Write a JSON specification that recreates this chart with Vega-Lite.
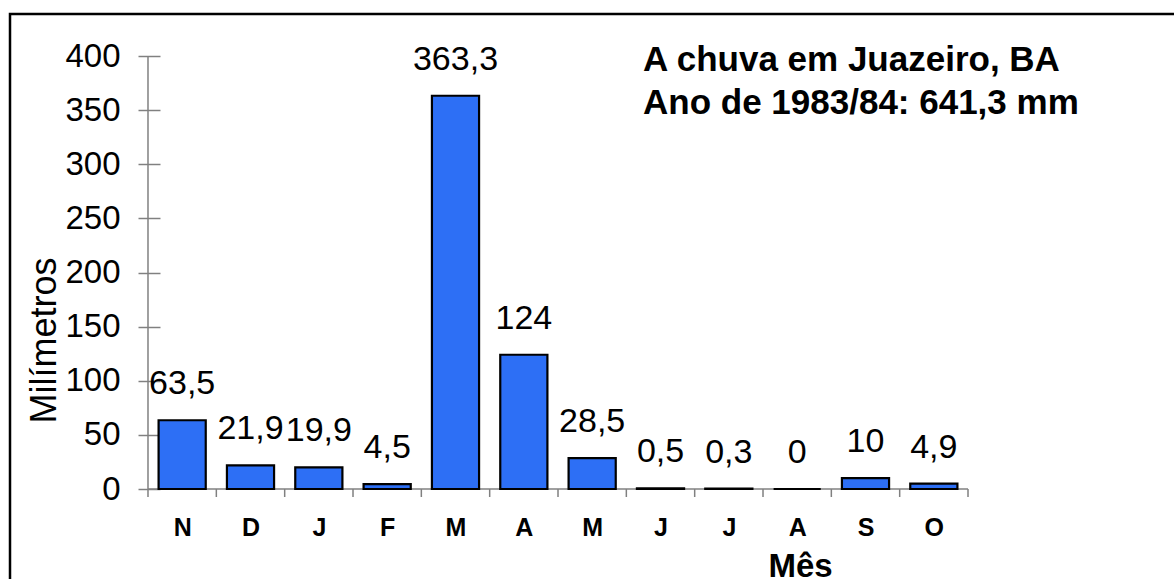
{
  "$schema": "https://vega.github.io/schema/vega-lite/v6.json",
  "width": 1200,
  "height": 600,
  "autosize": {"type": "none"},
  "padding": {"left": 10, "top": 14, "right": -36, "bottom": -35},
  "background": "white",
  "config": {
    "font": "Liberation Sans",
    "view": {"stroke": "black", "strokeWidth": 2.5}
  },
  "title": {
    "text": ["A chuva em Juazeiro, BA", "Ano de 1983/84: 641,3 mm"],
    "orient": "top",
    "anchor": "start",
    "frame": "group",
    "offset": 0,
    "dx": 633,
    "dy": 135,
    "baseline": "alphabetic",
    "lineHeight": 43,
    "fontSize": 35,
    "fontWeight": "bold",
    "font": "Liberation Sans",
    "color": "black"
  },
  "data": {
    "values": [
      {"mes": "Nov", "valor": 63.5, "rotulo": "63,5"},
      {"mes": "Dez", "valor": 21.9, "rotulo": "21,9"},
      {"mes": "Jan", "valor": 19.9, "rotulo": "19,9"},
      {"mes": "Fev", "valor": 4.5, "rotulo": "4,5"},
      {"mes": "Mar", "valor": 363.3, "rotulo": "363,3"},
      {"mes": "Abr", "valor": 124, "rotulo": "124"},
      {"mes": "Mai", "valor": 28.5, "rotulo": "28,5"},
      {"mes": "Jun", "valor": 0.5, "rotulo": "0,5"},
      {"mes": "Jul", "valor": 0.3, "rotulo": "0,3"},
      {"mes": "Ago", "valor": 0, "rotulo": "0"},
      {"mes": "Set", "valor": 10, "rotulo": "10"},
      {"mes": "Out", "valor": 4.9, "rotulo": "4,9"}
    ]
  },
  "layer": [
    {
      "transform": [{"filter": "datum.mes == 'Nov'"}],
      "mark": {"type": "rule", "color": "#808080", "strokeWidth": 1.5},
      "encoding": {
        "x": {"field": "mes", "type": "nominal", "bandPosition": -0.2248},
        "y": {"datum": -7.4},
        "y2": {"datum": 400}
      }
    },
    {
      "mark": {"type": "rule", "color": "#808080", "strokeWidth": 1.5},
      "encoding": {
        "x": {"field": "mes", "type": "nominal", "bandPosition": 1.2248},
        "y": {"datum": -7.4},
        "y2": {"datum": 0}
      }
    },
    {
      "data": {"values": [{"a": 1}]},
      "mark": {"type": "rule", "color": "#808080", "strokeWidth": 1.5},
      "encoding": {
        "x": {"datum": "Nov", "bandPosition": -0.2248},
        "x2": {"datum": "Out", "bandPosition": 1.2248},
        "y": {"datum": 0}
      }
    },
    {
      "mark": {"type": "bar", "color": "#2d6ff5", "stroke": "black", "strokeWidth": 2.2},
      "encoding": {
        "x": {
          "field": "mes",
          "type": "nominal",
          "sort": null,
          "scale": {
            "domain": ["Nov", "Dez", "Jan", "Fev", "Mar", "Abr", "Mai", "Jun", "Jul", "Ago", "Set", "Out"],
            "range": [138, 958],
            "paddingInner": 0.31,
            "paddingOuter": 0.155
          },
          "axis": {
            "orient": "bottom",
            "offset": -125,
            "domain": false,
            "grid": false,
            "ticks": false,
            "tickBand": "extent",
            "labelExpr": "slice(datum.label, 0, 1)",
            "labelAngle": 0,
            "labelAlign": "center",
            "labelFontSize": 25,
            "labelFontWeight": "bold",
            "labelColor": "black",
            "labelBaseline": "alphabetic",
            "labelPadding": 46,
            "labelOverlap": false,
            "title": "Mês",
            "titleFontSize": 33,
            "titleFontWeight": "bold",
            "titleColor": "black",
            "titleX": 790,
            "titleY": 87,
            "titleAlign": "center",
            "titleBaseline": "alphabetic"
          }
        },
        "y": {
          "field": "valor",
          "type": "quantitative",
          "scale": {"domain": [-115.47, 438.8], "nice": false, "zero": false},
          "axis": {
            "orient": "left",
            "offset": -150,
            "values": [0, 50, 100, 150, 200, 250, 300, 350, 400],
            "domain": false,
            "grid": false,
            "tickSize": 22,
            "tickColor": "#808080",
            "tickWidth": 1.5,
            "labelFontSize": 33,
            "labelColor": "black",
            "labelPadding": 18,
            "title": "Milímetros",
            "titleFontSize": 36,
            "titleFontWeight": "normal",
            "titleColor": "black",
            "titleAngle": 270,
            "titleX": -105,
            "titleY": 326,
            "titleAlign": "center",
            "titleBaseline": "alphabetic"
          }
        }
      }
    },
    {
      "mark": {"type": "text", "dy": -26, "baseline": "alphabetic", "fontSize": 34, "color": "black"},
      "encoding": {
        "x": {"field": "mes", "type": "nominal", "sort": null},
        "y": {"field": "valor", "type": "quantitative"},
        "text": {"field": "rotulo", "type": "nominal"}
      }
    }
  ]
}
